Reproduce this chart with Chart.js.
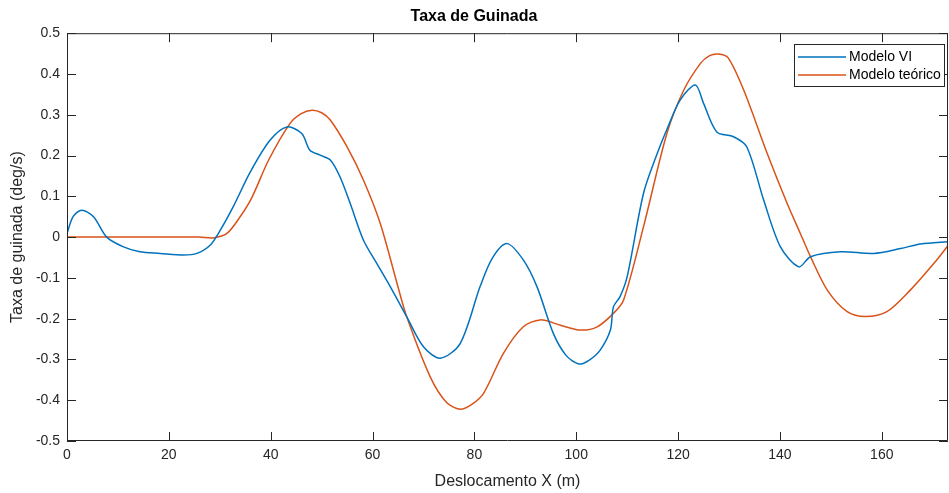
<!DOCTYPE html>
<html>
<head>
<meta charset="utf-8">
<script src="https://cdn.jsdelivr.net/npm/chart.js@4.4.1/dist/chart.umd.min.js"></script>
<style>
  html, body { margin: 0; padding: 0; background: #fff; }
  #wrap { position: relative; width: 949px; height: 493px; }
</style>
</head>
<body>
<div id="wrap"><canvas id="yaw-chart"></canvas></div>
<script>
// Modelo VI (blue)
const xVI = [0, 1.2, 2.9, 5.2, 7.8, 11.1, 14.3, 18.3, 22.9, 25.5, 28.1, 30.1, 32.7, 36.0, 39.9, 43.2, 46.1, 47.7, 49.7, 51.7, 53.6, 55.6, 58.2, 60.8, 63.5, 66.7, 70.0, 73.3, 77.2, 81.1, 83.5, 86.4, 89.6, 92.3, 95.5, 98.0, 100.5, 102.5, 104.7, 106.7, 107.3, 108.6, 110.0, 113.2, 115.9, 118.0, 120.4, 123.4, 125.0, 127.6, 130.9, 133.5, 136.8, 140.1, 143.7, 146.0, 151.9, 158.4, 163.7, 167.6, 173.3];
const yVI = [0.009, 0.05, 0.066, 0.050, 0.0, -0.024, -0.036, -0.040, -0.044, -0.040, -0.020, 0.017, 0.076, 0.160, 0.238, 0.270, 0.254, 0.213, 0.201, 0.189, 0.148, 0.083, -0.007, -0.064, -0.122, -0.195, -0.269, -0.297, -0.261, -0.122, -0.052, -0.016, -0.056, -0.122, -0.236, -0.290, -0.311, -0.302, -0.277, -0.228, -0.171, -0.146, -0.097, 0.107, 0.205, 0.270, 0.336, 0.373, 0.328, 0.258, 0.246, 0.221, 0.091, -0.024, -0.073, -0.048, -0.036, -0.040, -0.028, -0.017, -0.011];

// Modelo teórico (orange)
const xTeo = [0, 10, 20, 26, 28.7, 31.4, 34, 36.3, 39.6, 43.8, 46, 48.1, 50, 51.7, 55, 58.2, 61.5, 64.8, 66.7, 71.3, 74.5, 77.2, 79.5, 81.8, 85.7, 89.6, 92.9, 96.9, 100.8, 104.1, 107.3, 109.3, 113.2, 117.8, 121.1, 124.4, 126.2, 127.9, 129.8, 132.9, 137.5, 141.4, 144, 146, 149.3, 153.2, 156.8, 161, 165.6, 170.2, 173.3];
const yTeo = [0, 0, 0, 0, -0.002, 0.009, 0.050, 0.097, 0.189, 0.279, 0.303, 0.311, 0.305, 0.287, 0.221, 0.140, 0.034, -0.113, -0.195, -0.342, -0.405, -0.422, -0.410, -0.383, -0.285, -0.220, -0.203, -0.216, -0.228, -0.220, -0.187, -0.154, 0.025, 0.254, 0.360, 0.426, 0.445, 0.449, 0.440, 0.360, 0.205, 0.083, 0.009, -0.048, -0.130, -0.183, -0.195, -0.183, -0.130, -0.065, -0.016];

const xTicks = [0, 20, 40, 60, 80, 100, 120, 140, 160];
const yTicks = [-0.5, -0.4, -0.3, -0.2, -0.1, 0, 0.1, 0.2, 0.3, 0.4, 0.5];

const AXIS = '#262626';
const FONT = '"Liberation Sans", Arial, Helvetica, sans-serif';
const toPts = (xs, ys) => xs.map((x, i) => ({ x, y: ys[i] }));

// matlab style box: frame, inward ticks, legend in the top right
const matlabBox = {
  id: 'matlabBox',
  afterDatasetsDraw(chart) {
    const { ctx, chartArea: a, scales: { x, y } } = chart;
    const tl = 9;
    ctx.save();
    ctx.strokeStyle = AXIS;
    ctx.lineWidth = 1;
    ctx.beginPath();
    ctx.rect(a.left + 0.5, a.top + 0.5, a.right - a.left - 1, a.bottom - a.top - 1);
    xTicks.forEach((v) => {
      const px = Math.round(x.getPixelForValue(v)) + 0.5;
      ctx.moveTo(px, a.bottom); ctx.lineTo(px, a.bottom - tl);
      ctx.moveTo(px, a.top); ctx.lineTo(px, a.top + tl);
    });
    yTicks.forEach((v) => {
      const py = Math.round(y.getPixelForValue(v)) + 0.5;
      ctx.moveTo(a.left, py); ctx.lineTo(a.left + tl, py);
      ctx.moveTo(a.right, py); ctx.lineTo(a.right - tl, py);
    });
    ctx.stroke();

    // legend
    const bx = 794.5, by = 44.5, bw = 150, bh = 42;
    ctx.fillStyle = '#fff';
    ctx.fillRect(bx, by, bw, bh);
    ctx.strokeRect(bx, by, bw, bh);
    ctx.font = '14px ' + FONT;
    ctx.textBaseline = 'middle';
    chart.data.datasets.forEach((ds, i) => {
      const ly = 57 + i * 18;
      ctx.strokeStyle = ds.borderColor;
      ctx.lineWidth = 1.5;
      ctx.beginPath();
      ctx.moveTo(798, ly); ctx.lineTo(846, ly);
      ctx.stroke();
      ctx.fillStyle = '#000';
      ctx.fillText(ds.label, 849, ly);
    });
    ctx.restore();
  }
};

new Chart(document.getElementById('yaw-chart'), {
  type: 'line',
  data: {
    datasets: [
      { label: 'Modelo VI', data: toPts(xVI, yVI), borderColor: '#0072BD' },
      { label: 'Modelo teórico', data: toPts(xTeo, yTeo), borderColor: '#D95319' }
    ]
  },
  options: {
    responsive: true,
    maintainAspectRatio: false,
    animation: false,
    layout: { padding: { left: 0, right: 1, top: 0, bottom: 0 } },
    elements: {
      line: { borderWidth: 1.5, tension: 0.3, fill: false },
      point: { radius: 0 }
    },
    plugins: {
      legend: { display: false },
      tooltip: { enabled: false },
      title: {
        display: true,
        text: 'Taxa de Guinada',
        color: '#000',
        font: { family: FONT, size: 16, weight: 'bold' },
        padding: { top: 7, bottom: 7 }
      }
    },
    scales: {
      x: {
        type: 'linear',
        min: 0,
        max: 173,
        afterFit: (s) => { s.height = 52; },
        afterBuildTicks: (s) => { s.ticks = xTicks.map((v) => ({ value: v })); },
        grid: { display: false, drawTicks: false },
        border: { display: false },
        ticks: { color: AXIS, padding: 6, font: { family: FONT, size: 14 } },
        title: {
          display: true,
          text: 'Deslocamento X (m)',
          color: AXIS,
          font: { family: FONT, size: 16 },
          padding: { top: 0, bottom: 1.5 }
        }
      },
      y: {
        min: -0.5,
        max: 0.5,
        afterFit: (s) => { s.width = 67; },
        afterBuildTicks: (s) => { s.ticks = yTicks.map((v) => ({ value: v })); },
        grid: { display: false, drawTicks: false },
        border: { display: false },
        ticks: {
          color: AXIS,
          padding: 7,
          font: { family: FONT, size: 14 },
          callback: (v) => (Math.abs(v) < 1e-9 ? '0' : v.toFixed(1))
        },
        title: {
          display: true,
          text: 'Taxa de guinada (deg/s)',
          color: AXIS,
          font: { family: FONT, size: 16 },
          padding: { top: 7.5, bottom: 0 }
        }
      }
    }
  },
  plugins: [matlabBox]
});
</script>
</body>
</html>
